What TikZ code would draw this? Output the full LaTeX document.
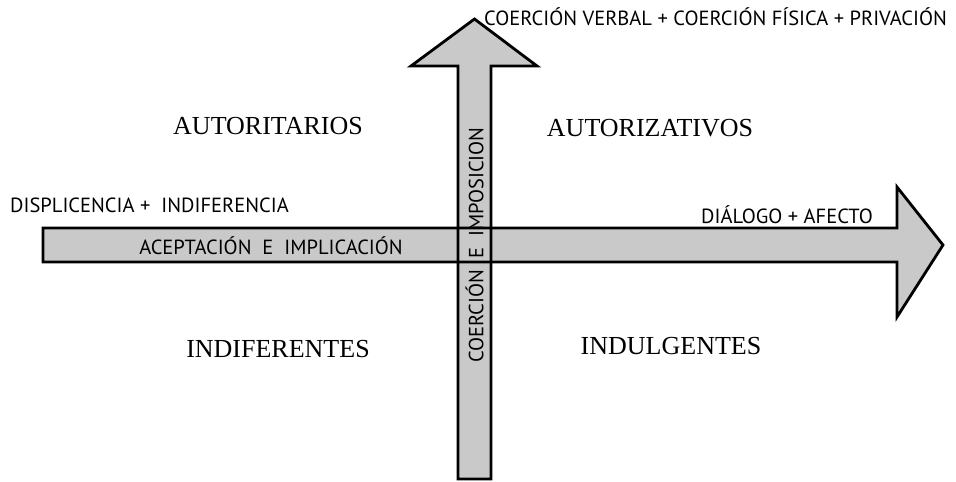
\documentclass[tikz,border=0pt]{standalone}
\usepackage{fontspec}
\setmainfont{Liberation Serif}
\newfontfamily\lblfont{PT Sans}
\begin{document}
\begin{tikzpicture}[x=1pt,y=-1pt,
  arrowfill/.style={fill=black!21,draw=none},
  arrowline/.style={draw=black,line width=2.8pt,line join=miter},
  quad/.style={font=\fontsize{26}{26}\selectfont,inner sep=0pt},
  lbl/.style={font=\lblfont\fontsize{20.5}{20.5}\selectfont,inner sep=0pt},
  axis/.style={font=\lblfont\fontsize{20.5}{20.5}\selectfont,inner sep=0pt}]
\useasboundingbox (0,0) rectangle (956,482);
% vertical arrow corners
\coordinate (vbl) at (458,479);
\coordinate (vbr) at (491,479);
\coordinate (vtl) at (458,66);
\coordinate (vtr) at (491,66);
\coordinate (vhl) at (411,66);
\coordinate (vhr) at (537,66);
\coordinate (vtip) at (474.5,19);
% horizontal arrow corners
\coordinate (htl) at (43,228);
\coordinate (hbl) at (43,262);
\coordinate (htr) at (897,228);
\coordinate (hbr) at (897,262);
\coordinate (hht) at (897,187);
\coordinate (hhb) at (897,317);
\coordinate (htip) at (943,245);
\fill[arrowfill] (vbl) -- (vtl) -- (vhl) -- (vtip) -- (vhr) -- (vtr) -- (vbr) -- cycle;
\fill[arrowfill] (hbl) -- (htl) -- (htr) -- (hht) -- (htip) -- (hhb) -- (hbr) -- cycle;
\draw[arrowline] (vbl) -- (vtl) -- (vhl) -- (vtip) -- (vhr) -- (vtr) -- (vbr) -- cycle;
\draw[arrowline] (hbl) -- (htl) -- (htr) -- (hht) -- (htip) -- (hhb) -- (hbr) -- cycle;
% texts
\node[lbl,anchor=west] (top) at (484,17) {COERCIÓN VERBAL + COERCIÓN FÍSICA + PRIVACIÓN};
\node[quad] (autorit) at (268,126) {AUTORITARIOS};
\node[quad] (autoriz) at (650,128) {AUTORIZATIVOS};
\node[quad] (indif) at (278,349) {INDIFERENTES};
\node[quad] (indul) at (671,346) {INDULGENTES};
\node[lbl,anchor=west] (displ) at (10,205) {DISPLICENCIA + \ INDIFERENCIA};
\node[lbl,anchor=east] (dial) at (873,215) {DIÁLOGO + AFECTO};
\node[axis] (acep) at (271,246) {ACEPTACIÓN \ E \ IMPLICACIÓN};
\node[axis,rotate=90] (coer) at (474.5,245) {COERCIÓN \ E \ IMPOSICION};
\end{tikzpicture}
\end{document}
